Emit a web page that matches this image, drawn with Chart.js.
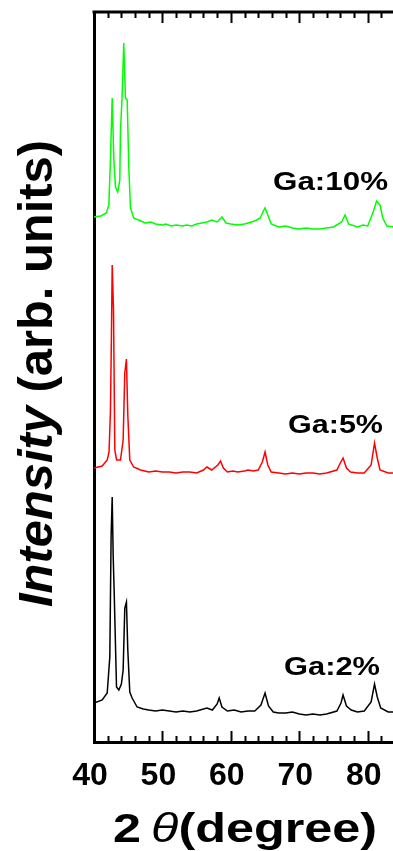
<!DOCTYPE html>
<html><head><meta charset="utf-8">
<script src="https://cdn.jsdelivr.net/npm/chart.js@4.4.0/dist/chart.umd.min.js"></script>
<style>html,body{margin:0;padding:0;background:#fff;overflow:hidden}#wrap{width:393px;height:851px;position:relative}canvas{display:block}</style>
</head><body><div id="wrap"><canvas id="c" width="393" height="851"></canvas></div>
<script>
// ---- data (intensity in arbitrary units, curves stacked) ----
const xTickLabels = [40, 50, 60, 70, 80];
const seriesNames = ['Ga:2%', 'Ga:5%', 'Ga:10%'];
const seriesColors = ['#000000', '#ff0000', '#00ff00'];

const ga2Angle = [40,41.2,41.93,42.31,42.5,42.66,42.8,42.95,43.29,43.63,44.0,44.26,44.5,44.74,44.94,45.23,45.57,46.3,47.2,48,49,50,51,52,53,54,55,56.5,57.3,58,58.3,58.7,59.5,60.5,61.5,62.5,63.5,64.4,65,65.5,66.2,67,68,69,70,71,72,73,74,75.5,76.1,76.4,76.9,77.6,78.5,79.5,80.5,81,81.4,81.9,83,84];
const ga2Intensity = [39,42,49,85,205,245,187,150,55,52,58,72,134,140,92,50,44,35,33,32,31,32,31,30,31,30,31,34,32,38,44,35,31,32,30,31,31,37,49,36,30,29,29,30,28,27,28,27,28,31,39,47,36,32,30,31,40,58,45,34,30,30];

const ga5Angle = [40,41.2,41.93,42.2,42.4,42.55,42.66,42.85,43.04,43.3,43.87,44.26,44.5,44.74,44.94,45.23,45.8,46.8,48,49,50,51,52,53,54,55,56,56.5,57.2,58.1,58.5,58.9,59.5,60.3,61,62,62.5,63.3,64,64.6,65,65.4,65.9,67,68,69,70,71,72,73,74,75.5,76,76.4,76.9,77.5,78.5,79.5,80.5,81,81.4,81.8,83,84];
const ga5Intensity = [274,276,282,290,330,407,477,432,292,282,282,302,369,383,327,282,275,272,270,271,270,270,269,270,270,269,272,275,272,277,281,274,270,271,270,271,272,271,272,280,290,277,270,269,268,269,268,269,269,268,269,272,279,284,274,270,269,269,277,299,284,272,269,269];

const ga10Angle = [40,41,41.8,42.17,42.4,42.66,42.9,43.14,43.47,43.77,43.87,44.1,44.35,44.6,44.85,45.1,45.33,45.8,46.5,47.5,48.3,49,50,50.5,51.3,52,53,53.5,54.3,55,56.5,57.2,58,58.7,59.3,60,61,62,62.5,63.5,64.3,64.75,65,65.4,65.9,67,68,69,70,71,72,73,74,75,76.2,76.7,77.2,78.5,79.3,80,80.8,81.3,81.8,82.2,82.8,84];
const ga10Intensity = [525,526,529,537,582,644,582,555,550,562,612,644,699,644,642,572,534,524,522,519,520,518,517,518,516,517,516,517,516,518,520,522,520,525,519,518,517,518,519,521,524,531,534,527,518,515,516,514,513,514,513,513,514,515,520,527,518,515,517,516,530,541,537,524,516,515];

const angles = [ga2Angle, ga5Angle, ga10Angle];
const intensities = [ga2Intensity, ga5Intensity, ga10Intensity];

// ---- chart ----
const FONT = '"Liberation Sans", Arial, Helvetica, sans-serif';

function drawFitted(ctx, parts, x, y, target) {
  let total = 0;
  parts.forEach(p => { ctx.font = p.font; p.w = ctx.measureText(p.text).width; total += p.w; });
  const s = target / total;
  ctx.save();
  ctx.translate(x, y);
  ctx.scale(s, 1);
  let cx = 0;
  parts.forEach(p => { ctx.font = p.font; ctx.fillText(p.text, cx, 0); cx += p.w; });
  ctx.restore();
}

const framePlugin = {
  id: 'frame',
  afterDatasetsDraw(chart) {
    const ctx = chart.ctx, a = chart.chartArea, xs = chart.scales.x;
    ctx.save();
    ctx.strokeStyle = '#000';
    ctx.lineWidth = 3;
    ctx.beginPath(); ctx.moveTo(a.left - 1.5, a.top); ctx.lineTo(chart.width + 2, a.top); ctx.stroke();
    ctx.lineWidth = 2;
    for (let v = 42; v <= xs.max; v += 2) {
      const px = Math.round(xs.getPixelForValue(v)) + 0.5;
      const len = (v % 10 === 0) ? 11 : 6;
      ctx.beginPath();
      ctx.moveTo(px, a.bottom); ctx.lineTo(px, a.bottom - len);
      ctx.moveTo(px, a.top); ctx.lineTo(px, a.top + len);
      ctx.stroke();
    }
    ctx.restore();
  },
  afterDraw(chart) {
    const ctx = chart.ctx;
    ctx.save();
    ctx.fillStyle = '#000';
    ctx.textBaseline = 'alphabetic';
    ctx.textAlign = 'left';
    const lab = [
      {x: 284, y: 675, w: 96},
      {x: 288, y: 433, w: 95},
      {x: 273, y: 190, w: 115}
    ];
    seriesNames.forEach((n, i) => {
      drawFitted(ctx, [{text: n, font: 'bold 25px ' + FONT}], lab[i].x, lab[i].y, lab[i].w);
    });
    drawFitted(ctx, [
      {text: '2\u2009', font: 'bold 40px ' + FONT},
      {text: 'θ', font: 'italic 40px ' + FONT},
      {text: '(degree)', font: 'bold 40px ' + FONT}
    ], 113, 842, 264);
    ctx.save();
    ctx.translate(52, 607);
    ctx.rotate(-Math.PI / 2);
    drawFitted(ctx, [
      {text: 'Intensity', font: 'italic bold 49px ' + FONT},
      {text: ' (arb. units)', font: 'bold 49px ' + FONT}
    ], 0, 0, 467);
    ctx.restore();
    ctx.restore();
  }
};

const datasets = seriesNames.map((n, i) => ({
  label: n,
  data: angles[i].map((x, k) => ({x: x, y: intensities[i][k]})),
  borderColor: seriesColors[i],
  borderWidth: 1.5,
  pointRadius: 0,
  tension: 0,
  fill: false
}));

new Chart(document.getElementById('c'), {
  type: 'line',
  data: {datasets},
  options: {
    responsive: false,
    animation: false,
    devicePixelRatio: 1,
    layout: {padding: {top: 12, right: 0, left: 0, bottom: 0}},
    plugins: {legend: {display: false}, tooltip: {enabled: false}},
    scales: {
      x: {
        type: 'linear', position: 'bottom', min: 40, max: 83.7,
        grid: {display: false},
        border: {display: true, width: 3, color: '#000'},
        ticks: {
          stepSize: 10, includeBounds: false, autoSkip: false, maxRotation: 0,
          labelOffset: -4, padding: 7, color: '#000',
          font: {family: FONT, weight: 'bold', size: 32},
          callback: v => xTickLabels.includes(v) ? String(v) : ''
        },
        afterFit: s => { s.height = 109; }
      },
      y: {
        min: 0, max: 730,
        grid: {display: false},
        border: {display: true, width: 3, color: '#000'},
        ticks: {display: false},
        afterFit: s => { s.width = 94; }
      }
    }
  },
  plugins: [framePlugin]
});
</script>
</body></html>
